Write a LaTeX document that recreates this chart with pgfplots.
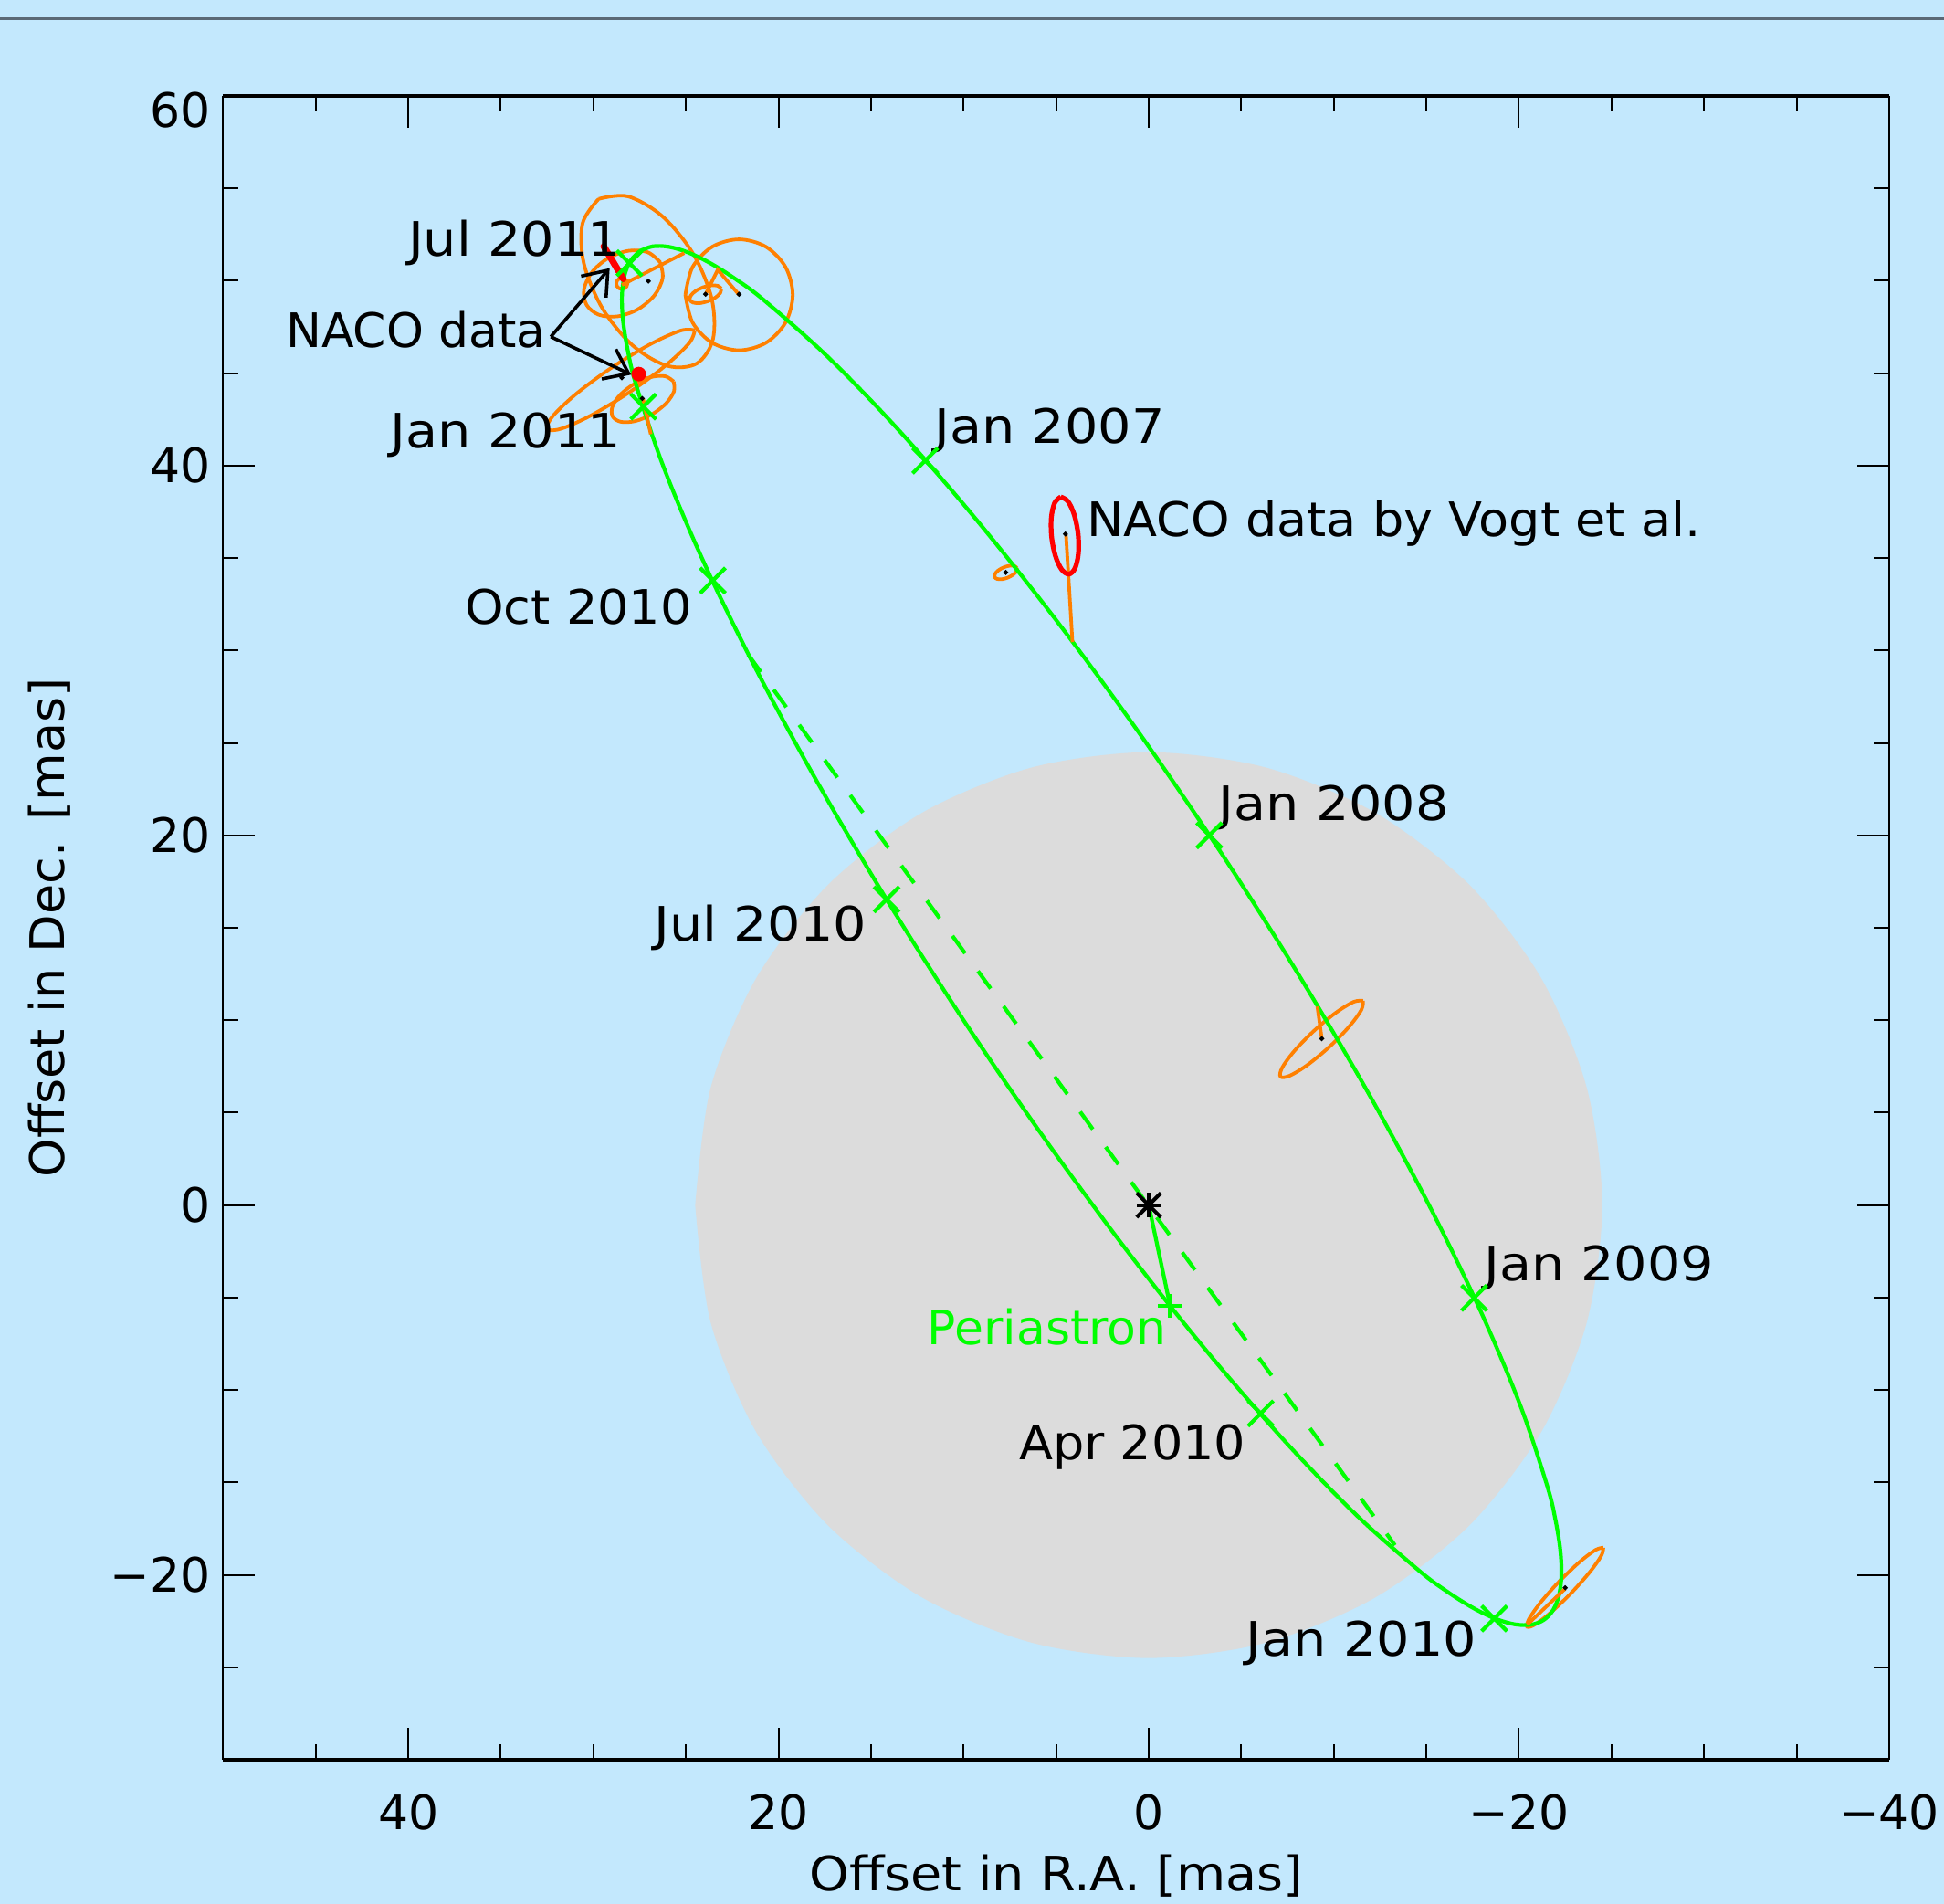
\documentclass[border=0pt]{standalone}
\usepackage{fontspec}
\setmainfont{DejaVu Sans}
\newfontfamily\wideA[FakeStretch=1.10]{DejaVu Sans}
\newfontfamily\wideB[FakeStretch=1.04]{DejaVu Sans}
\newfontfamily\wideC[FakeStretch=1.07]{DejaVu Sans}
\usepackage{pgfplots}
\pgfplotsset{compat=1.18}
\usetikzlibrary{arrows.meta}
\definecolor{bgblue}{RGB}{195,232,253}
\definecolor{cgray}{RGB}{220,220,220}
\definecolor{orbgreen}{RGB}{0,255,0}
\definecolor{errorange}{RGB}{255,128,0}
\definecolor{topline}{RGB}{90,105,118}
\tikzset{errell/.style={errorange, line width=0.95pt, smooth, tension=0.55}}
\begin{document}
\begin{tikzpicture}[font=\fontsize{13}{15.6}\selectfont]
\fill[bgblue] (-61.1pt,-39.5pt) rectangle (471.15pt,481.75pt);
\draw[topline, line width=0.6pt] (-61.1pt,476.6pt) -- (471.15pt,476.6pt);
\begin{axis}[
  at={(0pt,0pt)}, anchor=south west,
  scale only axis, width=456.15pt, height=455.5pt,
  xmin=-40, xmax=50, ymin=-30, ymax=60, x dir=reverse,
  separate axis lines,
  x axis line style={line width=1pt},
  y axis line style={line width=0.5pt},
  xtick={40,20,0,-20,-40}, xticklabels={40,20,0,−20,−40},
  ytick={-20,0,20,40}, yticklabels={−20,0,20,40},
  extra y ticks={60}, extra y tick labels={60},
  extra y tick style={yticklabel style={yshift=-4pt}},
  minor xtick={45,35,30,25,15,10,5,-5,-10,-15,-25,-30,-35},
  minor ytick={-25,-15,-10,-5,5,10,15,25,30,35,45,50,55},
  major tick length=8.75pt, minor tick length=4.2pt,
  tick style={black, line width=0.5pt},
  tick align=inside,
  tick label style={font=\fontsize{13}{15.6}\selectfont},
  xticklabel style={yshift=-6pt},
  every axis x label/.style={at={(axis description cs:0.5,-0.0696)}, anchor=center},
  every axis y label/.style={at={(axis description cs:-0.1044,0.5)}, anchor=center, rotate=90},
  label style={font=\fontsize{13}{15.6}\selectfont},
  xlabel={\wideC Offset in R.A. [mas]}, ylabel={\wideB Offset in Dec. [mas]},
]
% grey disc
\addplot[draw=none, fill=cgray, smooth] coordinates {(24.5,0) (23.665,6.341) (21.218,12.25) (17.324,17.324) (12.25,21.218) (6.341,23.665) (0,24.5) (-6.341,23.665) (-12.25,21.218) (-17.324,17.324) (-21.218,12.25) (-23.665,6.341) (-24.5,0) (-23.665,-6.341) (-21.218,-12.25) (-17.324,-17.324) (-12.25,-21.218) (-6.341,-23.665) (0,-24.5) (6.341,-23.665) (12.25,-21.218) (17.324,-17.324) (21.218,-12.25) (23.665,-6.341) (24.5,0)};
% line of nodes
\addplot[orbgreen, line width=1.05pt, dash pattern=on 5.9pt off 6pt] coordinates {(21.64,29.78) (-13.3,-18.4)};
% error ellipses
\addplot[errell] coordinates {(7.117,34.464) (7.142,34.292) (7.322,34.101) (7.608,33.942) (7.924,33.857) (8.186,33.870) (8.323,33.976) (8.298,34.148) (8.118,34.339) (7.832,34.498) (7.516,34.583) (7.254,34.570) (7.117,34.464)};
\addplot[errell] coordinates {(-11.580,11.051) (-11.484,10.555) (-10.817,9.643) (-9.756,8.558) (-8.587,7.591) (-7.622,7.003) (-7.120,6.949) (-7.216,7.445) (-7.883,8.357) (-8.944,9.442) (-10.113,10.409) (-11.078,10.997) (-11.580,11.051)};
\addplot[errell] coordinates {(-24.559,-18.530) (-24.445,-18.973) (-23.811,-19.870) (-22.824,-20.982) (-21.751,-22.010) (-20.879,-22.679) (-20.441,-22.810) (-20.555,-22.367) (-21.189,-21.470) (-22.176,-20.358) (-23.249,-19.330) (-24.121,-18.661) (-24.559,-18.530)};
\addplot[errell] coordinates {(29.712,54.430) (28.129,54.566) (26.258,53.473) (24.603,51.444) (23.606,49.023) (23.535,46.858) (24.408,45.530) (25.991,45.394) (27.862,46.487) (29.517,48.516) (30.514,50.937) (30.585,53.102) (29.712,54.430)};
\addplot[errell] coordinates {(26.388,51.000) (26.255,50.153) (26.691,49.225) (27.580,48.464) (28.683,48.075) (29.705,48.161) (30.372,48.700) (30.505,49.547) (30.069,50.475) (29.180,51.236) (28.077,51.625) (27.055,51.539) (26.388,51.000)};
\addplot[errell] coordinates {(23.094,49.578) (23.139,49.349) (23.398,49.098) (23.803,48.894) (24.244,48.790) (24.605,48.815) (24.786,48.962) (24.741,49.191) (24.482,49.442) (24.077,49.646) (23.636,49.750) (23.275,49.725) (23.094,49.578)};
\addplot[errell] coordinates {(25.03,49.24) (24.641,50.74) (23.58,51.838) (22.13,52.24) (20.68,51.838) (19.619,50.74) (19.23,49.24) (19.619,47.74) (20.68,46.642) (22.13,46.24) (23.58,46.642) (24.641,47.74) (25.03,49.24)};
\addplot[errell] coordinates {(24.521,47.320) (24.828,46.621) (26.121,45.395) (28.054,43.969) (30.109,42.725) (31.736,41.997) (32.499,41.980) (32.192,42.679) (30.899,43.905) (28.966,45.331) (26.911,46.575) (25.284,47.303) (24.521,47.320)};
\addplot[errell] coordinates {(25.665,44.55) (25.647,44.012) (26.076,43.362) (26.835,42.777) (27.722,42.412) (28.497,42.366) (28.955,42.65) (28.973,43.188) (28.544,43.838) (27.785,44.423) (26.898,44.788) (26.123,44.834) (25.665,44.55)};
\addplot[errell] coordinates {(28.76,49.85) (28.72,50.0) (28.61,50.11) (28.46,50.15) (28.31,50.11) (28.20,50.0) (28.16,49.85) (28.20,49.70) (28.31,49.59) (28.46,49.55) (28.61,49.59) (28.72,49.70) (28.76,49.85)};
% apparent orbit
\addplot[orbgreen, line width=1.05pt, smooth, tension=0.55] coordinates {(27.495,51.603) (26.798,51.860) (25.921,51.834) (24.870,51.525) (23.653,50.933) (22.280,50.065) (20.759,48.928) (17.329,45.878) (13.466,41.878) (9.287,37.049) (4.919,31.536) (0.496,25.509) (-3.849,19.149) (-7.984,12.651) (-11.781,6.210) (-15.129,0.025) (-17.922,-5.718) (-20.077,-10.844) (-21.529,-15.198) (-21.976,-17.043) (-22.233,-18.647) (-22.296,-19.999) (-22.167,-21.088) (-21.846,-21.904) (-21.335,-22.443) (-20.638,-22.700) (-19.761,-22.674) (-18.710,-22.365) (-17.493,-21.773) (-16.120,-20.905) (-14.599,-19.768) (-11.169,-16.718) (-7.306,-12.718) (-3.127,-7.889) (1.241,-2.376) (5.664,3.651) (10.009,10.011) (14.144,16.509) (17.941,22.950) (21.289,29.135) (24.082,34.878) (26.237,40.004) (27.689,44.358) (28.136,46.203) (28.393,47.807) (28.456,49.159) (28.327,50.248) (28.006,51.064) (27.495,51.603)};
% star to periastron
\addplot[orbgreen, line width=1.05pt] coordinates {(0,0) (-1.16,-5.46)};
% connectors
\addplot[errorange, line width=0.95pt] coordinates {(28.46,49.77) (25.09,51.5)};
\addplot[errorange, line width=0.95pt] coordinates {(23.94,49.27) (23.28,50.59) (22.13,49.24)};
\addplot[errorange, line width=0.95pt] coordinates {(27.31,43.60) (26.90,41.70)};
\addplot[errorange, line width=0.95pt] coordinates {(4.47,36.27) (4.12,30.45)};
\addplot[errorange, line width=0.95pt] coordinates {(-9.35,9.0) (-9.11,10.74)};
\addplot[errorange, line width=0.95pt] coordinates {(-22.50,-20.75) (-20.45,-22.69)};
% NACO Vogt ellipse
\addplot[red, line width=1.3pt, smooth, tension=0.55] coordinates {(4.749,38.308) (4.362,38.066) (4.020,37.329) (3.814,36.295) (3.800,35.241) (3.982,34.450) (4.311,34.132) (4.698,34.374) (5.040,35.111) (5.246,36.145) (5.260,37.199) (5.078,37.990) (4.749,38.308)};
% data point dots
\addplot[only marks, mark=*, mark size=0.45pt, black] coordinates {(27.03,49.98) (23.94,49.27) (22.13,49.27) (28.46,44.75) (27.36,43.63) (4.5,36.3) (7.72,34.22) (-9.35,9.0) (-22.5,-20.7)};
% epoch crosses
\addplot[only marks, mark=x, mark size=4.9pt, color=orbgreen, mark options={line width=1.05pt}] coordinates {(12.07,40.27) (-3.27,20.0) (-17.58,-5.02) (-18.67,-22.36) (-6.05,-11.27) (14.16,16.54) (23.55,33.78) (27.30,43.19) (28.05,50.95)};
\addplot[only marks, mark=+, mark size=3.3pt, color=orbgreen, mark options={line width=1.05pt}] coordinates {(-1.16,-5.46)};
% new NACO data
\addplot[red, line width=1.8pt, line cap=round] coordinates {(29.44,51.86) (28.38,50.1)};
\addplot[only marks, mark=*, mark size=1.8pt, red] coordinates {(27.55,44.95)};
% central star
\addplot[only marks, mark=+, mark size=3.3pt, black, mark options={line width=1pt}] coordinates {(0,0)};
\addplot[only marks, mark=x, mark size=4.7pt, black, mark options={line width=1pt}] coordinates {(0,0)};
% arrows
\addplot[black, line width=0.9pt, -{Straight Barb[length=6pt,width=9pt]}] coordinates {(32.30,46.97) (29.12,50.68)};
\addplot[black, line width=0.9pt, -{Straight Barb[length=6pt,width=9pt]}] coordinates {(32.30,46.97) (27.96,44.92)};
% labels
\node[anchor=base east, inner sep=0pt, font=\fontsize{13}{15.6}\wideA] at (axis cs:28.48,51.35) {Jul 2011};
\node[anchor=base east, inner sep=0pt] at (axis cs:32.53,46.4) {NACO data};
\node[anchor=base east, inner sep=0pt, font=\fontsize{13}{15.6}\wideA] at (axis cs:28.48,40.97) {Jan 2011};
\node[anchor=base west, inner sep=0pt, font=\fontsize{13}{15.6}\wideA] at (axis cs:11.6,41.21) {Jan 2007};
\node[anchor=base west, inner sep=0pt, font=\fontsize{13}{15.6}\wideB] at (axis cs:3.38,36.16) {NACO data by Vogt et al.};
\node[anchor=base east, inner sep=0pt, font=\fontsize{13}{15.6}\wideB] at (axis cs:24.64,31.44) {Oct 2010};
\node[anchor=base east, inner sep=0pt, font=\fontsize{13}{15.6}\wideA] at (axis cs:15.19,14.27) {Jul 2010};
\node[anchor=base west, inner sep=0pt, font=\fontsize{13}{15.6}\wideA] at (axis cs:-3.75,20.8) {Jan 2008};
\node[anchor=base west, inner sep=0pt, font=\fontsize{13}{15.6}\wideA] at (axis cs:-18.07,-4.09) {Jan 2009};
\node[anchor=base east, inner sep=0pt, text=orbgreen] at (axis cs:-1.0,-7.55) {Periastron};
\node[anchor=base east, inner sep=0pt, font=\fontsize{13}{15.6}\wideB] at (axis cs:-5.29,-13.78) {Apr 2010};
\node[anchor=base east, inner sep=0pt, font=\fontsize{13}{15.6}\wideA] at (axis cs:-17.74,-24.37) {Jan 2010};
\end{axis}
\pgfresetboundingbox
\useasboundingbox (-61.1pt,-39.5pt) rectangle (471.15pt,481.75pt);
\end{tikzpicture}
\end{document}
